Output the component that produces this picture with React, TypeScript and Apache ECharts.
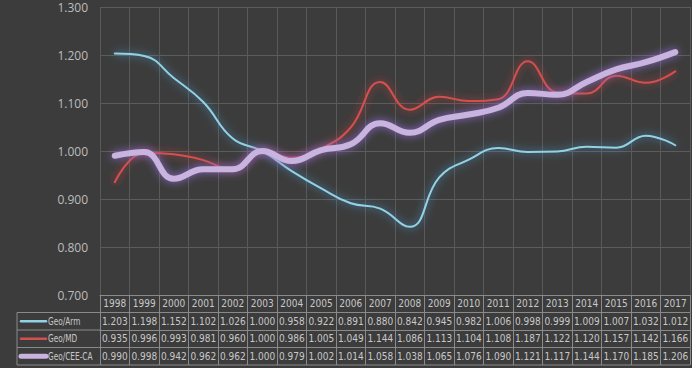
import React, { useEffect, useRef } from "react";
import * as echarts from "echarts";

const years = ["1998","1999","2000","2001","2002","2003","2004","2005","2006","2007","2008","2009","2010","2011","2012","2013","2014","2015","2016","2017"];
const geoArm = [1.203,1.198,1.152,1.102,1.026,1.000,0.958,0.922,0.891,0.880,0.842,0.945,0.982,1.006,0.998,0.999,1.009,1.007,1.032,1.012];
const geoMD = [0.935,0.996,0.993,0.981,0.960,1.000,0.986,1.005,1.049,1.144,1.086,1.113,1.104,1.108,1.187,1.122,1.120,1.157,1.142,1.166];
const geoCEE = [0.990,0.998,0.942,0.962,0.962,1.000,0.979,1.002,1.014,1.058,1.038,1.065,1.076,1.090,1.121,1.117,1.144,1.170,1.185,1.206];
const seriesNames = ["Geo/Arm", "Geo/MD", "Geo/CEE-CA"];
const seriesData = [geoArm, geoMD, geoCEE];
const yTicks = [0.7, 1.3, 0.1];

const colors = ["#92d2e6", "#d4504e", "#c9b3df"];
const glows = ["rgba(80,170,230,0.9)", "rgba(220,60,60,0.9)", "rgba(150,110,220,0.9)"];
const widths = [2, 2, 6];

const W = 692, H = 368;
const gridL = 100, gridR = 2, gridT = 7, plotBottom = 295;
const rowH = 17.5;
const tableFont = "'Liberation Sans Narrow', 'DejaVu Sans Condensed', 'Roboto', sans-serif";
const border = "#8a8a8a";
const txt = "#c8c8c8";

function fmt(v: number) {
  return v.toFixed(3);
}

export default function App() {
  const ref = useRef<HTMLDivElement>(null);
  useEffect(() => {
    const chart = echarts.init(ref.current!, undefined, { renderer: "svg" });

    const tableAxes: any[] = [];
    tableAxes.push({
      type: "category",
      data: years,
      gridIndex: 0,
      position: "bottom",
      offset: 0,
      boundaryGap: true,
      axisLine: { show: true, lineStyle: { color: border, width: 1 } },
      axisTick: { show: true, length: rowH, lineStyle: { color: border } },
      axisLabel: {
        color: txt, fontSize: 10, fontFamily: tableFont, margin: 8.5,
        verticalAlign: "middle", interval: 0,
      },
      splitLine: { show: true, lineStyle: { color: "#595959", width: 1 } },
    });
    seriesData.forEach((arr, k) => {
      tableAxes.push({
        type: "category",
        data: years,
        gridIndex: 0,
        position: "bottom",
        offset: rowH * (k + 1),
        boundaryGap: true,
        axisLine: { show: true, lineStyle: { color: border, width: 1 } },
        axisTick: { show: true, length: rowH, lineStyle: { color: border } },
        axisLabel: {
          color: txt, fontSize: 10, fontFamily: tableFont, margin: 8.5,
          verticalAlign: "middle", interval: 0,
          formatter: (_v: string, idx: number) => fmt(arr[idx]),
        },
        splitLine: { show: false },
      });
    });

    const graphics: any[] = [];
    const legL = 17;
    const tableBottom = plotBottom + rowH * 4;
    graphics.push({ type: "line", silent: true, shape: { x1: legL, y1: plotBottom + rowH, x2: legL, y2: tableBottom }, style: { stroke: border, lineWidth: 1 } });
    for (let k = 1; k <= 4; k++) {
      const y = plotBottom + rowH * k;
      graphics.push({ type: "line", silent: true, shape: { x1: legL, y1: y, x2: k === 4 ? W - gridR : gridL, y2: y }, style: { stroke: border, lineWidth: 1 } });
    }
    seriesNames.forEach((name, k) => {
      const cy = plotBottom + rowH * (k + 1) + rowH / 2;
      graphics.push({ type: "line", silent: true, shape: { x1: legL + 4, y1: cy, x2: legL + 29, y2: cy }, style: { stroke: colors[k], lineWidth: widths[k] === 6 ? 5 : 2.5, lineCap: "round" } });
      graphics.push({ type: "text", silent: true, x: legL + 31, y: cy, scaleX: 0.82, style: { text: name, fill: txt, font: `10px ${tableFont}`, verticalAlign: "middle", align: "left" } });
    });

    chart.setOption({
      animation: false,
      backgroundColor: "#3c3c3c",
      grid: { left: gridL, right: gridR, top: gridT, bottom: H - plotBottom, containLabel: false },
      xAxis: tableAxes,
      yAxis: {
        type: "value",
        min: yTicks[0], max: yTicks[1], interval: yTicks[2],
        axisLine: { show: false },
        axisTick: { show: false },
        axisLabel: { color: "#bdbdbd", fontSize: 12, fontFamily: "'Open Sans', 'Noto Sans', sans-serif", margin: 12, formatter: (v: number) => fmt(v) },
        splitLine: { show: true, lineStyle: { color: "#5c5c5c", width: 1 } },
      },
      series: seriesNames.map((name, k) => ({
        name,
        type: "line",
        data: seriesData[k],
        xAxisIndex: 0,
        smooth: 0.45,
        symbol: "none",
        z: k === 2 ? 3 : 2,
        lineStyle: { color: colors[k], width: widths[k], shadowBlur: 8, shadowColor: glows[k], cap: "round" },
      })),
      graphic: graphics,
    });
    return () => chart.dispose();
  }, []);
  return <div ref={ref} style={{ width: W, height: H, position: "absolute", left: 0, top: 0 }} />;
}
